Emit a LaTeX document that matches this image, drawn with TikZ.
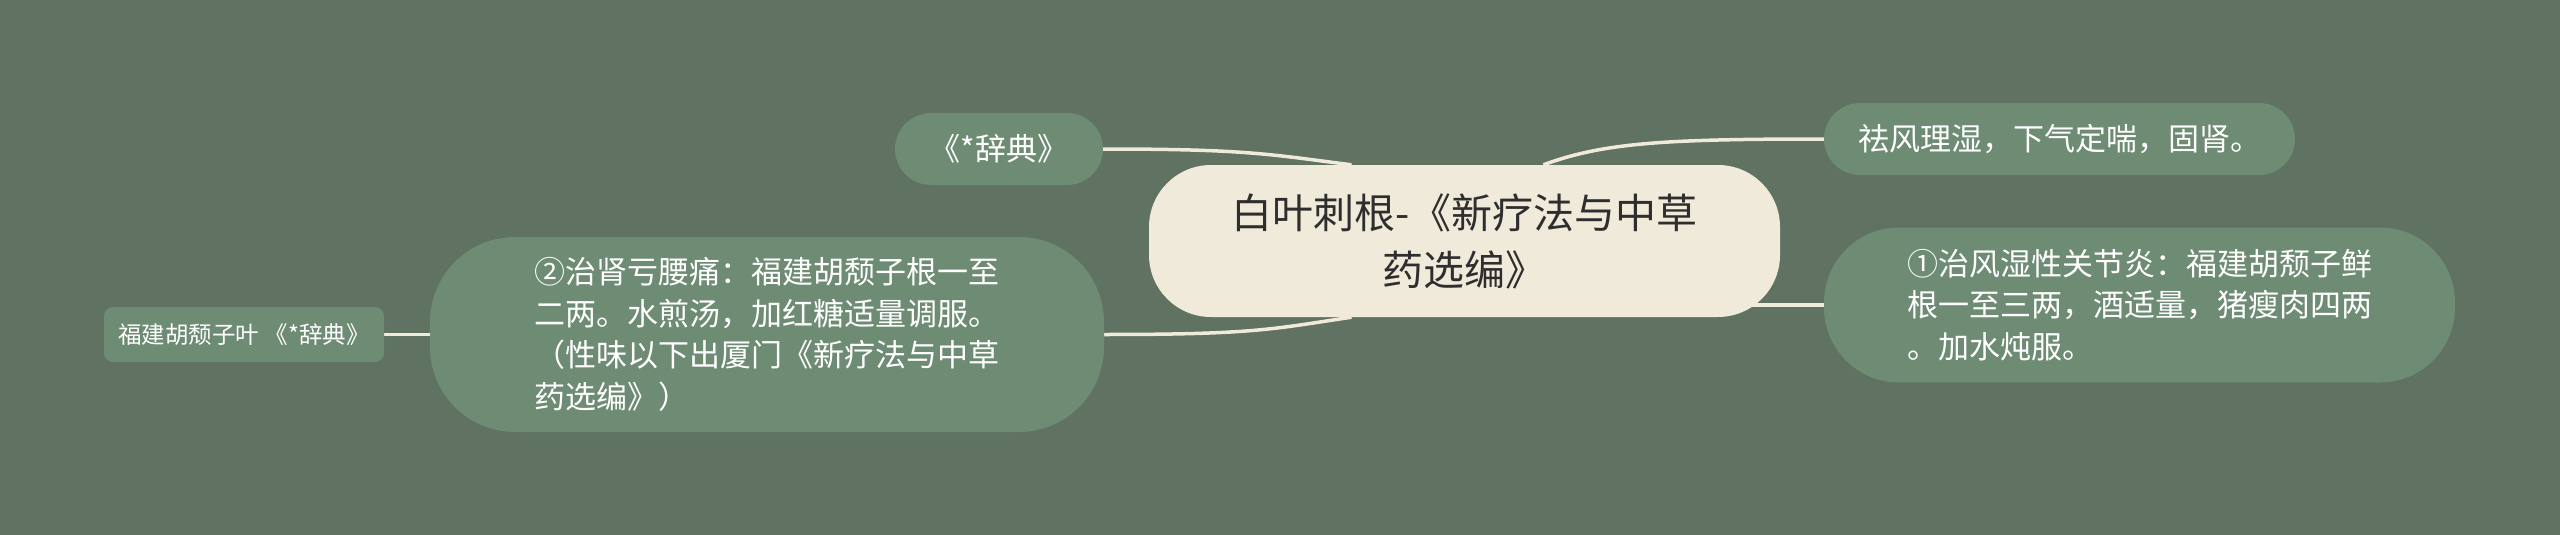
\documentclass[tikz,border=0pt]{standalone}
\usepackage{fontspec}
\setmainfont{Noto Sans CJK SC}
\usetikzlibrary{backgrounds}

\definecolor{achtergrond}{HTML}{607262}
\definecolor{takgroen}{HTML}{6E8B74}
\definecolor{room}{HTML}{EFEADA}
\definecolor{donker}{HTML}{2E2E2E}

\tikzset{
  hoofd/.style={fill=room, text=donker, inner sep=0pt, align=center,
    rounded corners=62, font=\fontsize{41}{57}\selectfont},
  tak/.style={fill=takgroen, text=white, inner sep=0pt,
    font=\fontsize{31}{41.6}\selectfont},
  blad/.style={fill=takgroen, text=white, inner sep=0pt, rounded corners=9,
    font=\fontsize{23.5}{30}\selectfont},
  lijn/.style={draw=room, line width=3.5},
}

\begin{document}
\begin{tikzpicture}[x=1pt,y=-1pt]
  \useasboundingbox (0,0) rectangle (2560,535);
  \begin{scope}[on background layer]
    \fill[achtergrond] (0,0) rectangle (2560,535);
  \end{scope}

  % Midden
  \node[hoofd, minimum width=631, minimum height=152] (root) at (1464.5,241)
    {白叶刺根-《新疗法与中草\\药选编》};

  % Linkerkant
  \node[tak, rounded corners=36, minimum width=208, minimum height=72] (dict) at (999,149)
    {《*辞典》};
  \node[tak, rounded corners=85, minimum width=674, minimum height=195, align=left] (kidney) at (767,334.5)
    {②治肾亏腰痛：福建胡颓子根一至\\二两。水煎汤，加红糖适量调服。\\（性味以下出厦门《新疗法与中草\\药选编》）};
  \node[blad, minimum width=280, minimum height=55] (leaf) at (244,334.5)
    {福建胡颓子叶 《*辞典》};

  % Rechterkant
  \node[tak, rounded corners=36, minimum width=471, minimum height=72] (effect) at (2059.5,139)
    {祛风理湿，下气定喘，固肾。};
  \node[tak, rounded corners=75, minimum width=631, minimum height=155, align=left] (rheum) at (2139.5,305)
    {①治风湿性关节炎：福建胡颓子鲜\\根一至三两，酒适量，猪瘦肉四两\\。加水炖服。};

  % Verbindingen
  \begin{scope}[on background layer]
    \draw[lijn] (dict.east) .. controls +(147,0) and +(-80,-10) .. (root.146);
    \draw[lijn] (kidney.east) .. controls +(150,0) and +(-80,12) .. (root.214);
    \draw[lijn] (root.44) .. controls +(60,-22) and +(-160,0) .. (effect.west);
    \draw[lijn] (rheum.west) -- (rheum.west -| root.center);
    \draw[lijn] (leaf.east) -- (kidney.west);
  \end{scope}
\end{tikzpicture}
\end{document}
